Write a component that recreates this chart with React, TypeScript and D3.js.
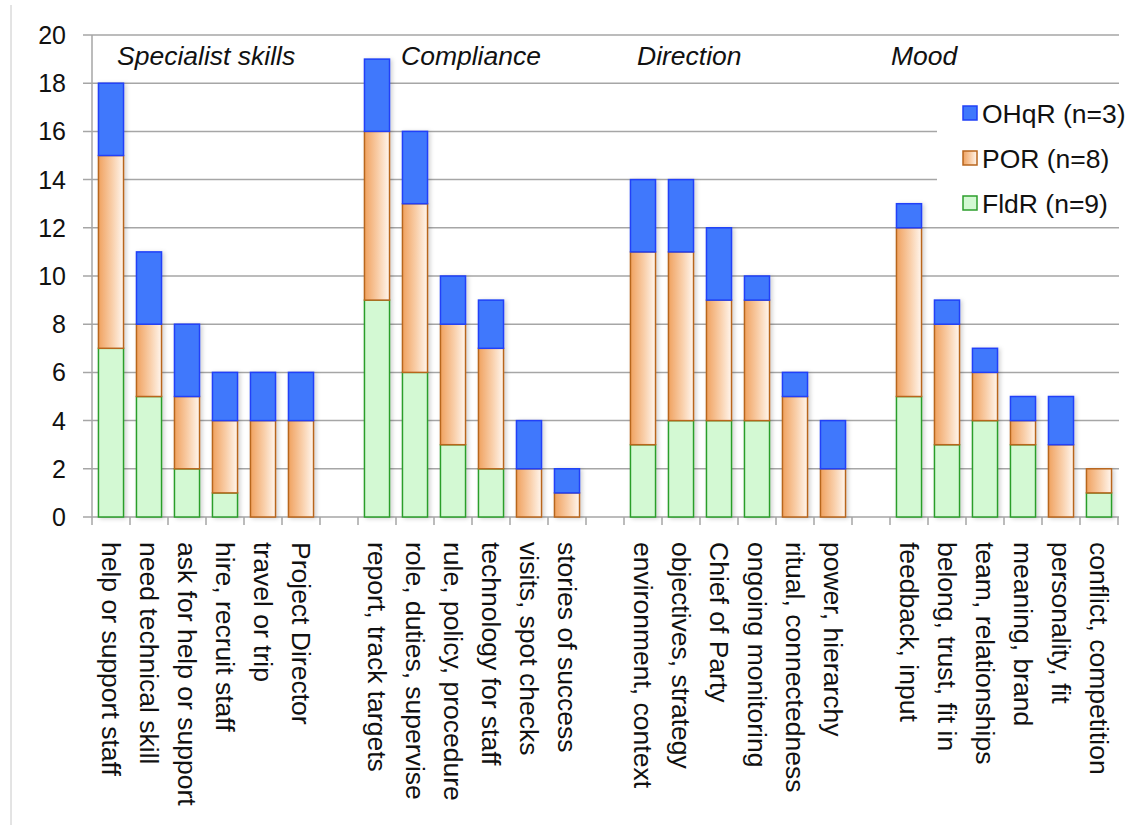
import React, { useEffect, useRef } from "react";
import * as d3 from "d3";

const groups = ["Specialist skills", "Compliance", "Direction", "Mood"];
const groupLabelX = [117, 401, 637, 891];

const categories = [
  "help or support staff", "need technical skill", "ask for help or support",
  "hire, recruit staff", "travel or trip", "Project Director",
  "report, track targets", "role, duties, supervise", "rule, policy, procedure",
  "technology for staff", "visits, spot checks", "stories of success",
  "environment, context", "objectives, strategy", "Chief of Party",
  "ongoing monitoring", "ritual, connectedness", "power, hierarchy",
  "feedback, input", "belong, trust, fit in", "team, relationships",
  "meaning, brand", "personality, fit", "conflict, competition",
];

const fldr = [7, 5, 2, 1, 0, 0, 9, 6, 3, 2, 0, 0, 3, 4, 4, 4, 0, 0, 5, 3, 4, 3, 0, 1];
const por = [8, 3, 3, 3, 4, 4, 7, 7, 5, 5, 2, 1, 8, 7, 5, 5, 5, 2, 7, 5, 2, 1, 3, 1];
const ohqr = [3, 3, 3, 2, 2, 2, 3, 3, 2, 2, 2, 1, 3, 3, 3, 1, 1, 2, 1, 1, 1, 1, 2, 0];

const seriesKeys = ["FldR", "POR", "OHqR"];
const legendLabels = ["OHqR (n=3)", "POR (n=8)", "FldR (n=9)"];
const yTicks = [0, 2, 4, 6, 8, 10, 12, 14, 16, 18, 20];

const W = 1134;
const H = 825;
const FONT = "'Liberation Sans', Arial, Helvetica, sans-serif";

export default function App() {
  const ref = useRef<SVGSVGElement>(null);

  useEffect(() => {
    const svg = d3.select(ref.current);
    svg.selectAll("*").remove();

    // slots: 6 bars per group, one empty slot between groups
    const slots: string[] = [];
    categories.forEach((c, i) => {
      if (i > 0 && i % 6 === 0) slots.push("gap" + i);
      slots.push(c);
    });

    const x = d3.scaleBand<string>().domain(slots).range([92, 1118]).paddingInner(0.34).paddingOuter(0.17);
    const y = d3.scaleLinear().domain([0, 20]).range([517, 35]);

    const rows = categories.map((c, i) => ({ cat: c, FldR: fldr[i], POR: por[i], OHqR: ohqr[i] }));
    const stacked = d3.stack<any>().keys(seriesKeys)(rows);

    const defs = svg.append("defs");
    const grad = defs.append("linearGradient").attr("id", "porGrad").attr("x1", "0").attr("x2", "1").attr("y1", "0").attr("y2", "0");
    grad.append("stop").attr("offset", "0%").attr("stop-color", "#f0a260");
    grad.append("stop").attr("offset", "55%").attr("stop-color", "#f9cfaa");
    grad.append("stop").attr("offset", "100%").attr("stop-color", "#fff6ee");
    const shadow = defs.append("filter").attr("id", "shadow").attr("x", "-30%").attr("y", "-10%").attr("width", "160%").attr("height", "120%");
    shadow.append("feDropShadow").attr("dx", 2).attr("dy", 1).attr("stdDeviation", 2).attr("flood-color", "#000").attr("flood-opacity", 0.18);

    const fills: Record<string, string> = { FldR: "#d3f9d3", POR: "url(#porGrad)", OHqR: "#3f78fc" };
    const strokes: Record<string, string> = { FldR: "#2c9e2c", POR: "#b8661e", OHqR: "#2040f8" };

    // left page border
    svg.append("line").attr("x1", 11).attr("x2", 11).attr("y1", 5).attr("y2", H).attr("stroke", "#c8c8c8").attr("stroke-width", 1);

    // gridlines
    svg.append("g").selectAll("line").data(yTicks).join("line")
      .attr("x1", 83).attr("x2", 1119)
      .attr("y1", (d) => y(d)).attr("y2", (d) => y(d))
      .attr("stroke", "#a6a6a6").attr("stroke-width", 1.5);

    // y axis
    svg.append("line").attr("x1", 92).attr("x2", 92).attr("y1", y(20)).attr("y2", y(0)).attr("stroke", "#a6a6a6").attr("stroke-width", 1.5);
    svg.append("g").selectAll("text").data(yTicks).join("text")
      .attr("x", 66).attr("y", (d) => y(d)).attr("dy", "0.36em")
      .attr("text-anchor", "end").attr("font-family", FONT).attr("font-size", 25).attr("fill", "#111")
      .text((d) => d);

    // x ticks at slot boundaries
    const bounds = d3.range(slots.length + 1).map((i) => 92 + i * x.step());
    svg.append("g").selectAll("line").data(bounds).join("line")
      .attr("x1", (d) => d).attr("x2", (d) => d).attr("y1", y(0)).attr("y2", y(0) + 8)
      .attr("stroke", "#a6a6a6").attr("stroke-width", 1.5);

    // legend background (hides gridlines)
    svg.append("rect").attr("x", 937).attr("y", 96).attr("width", 182).attr("height", 124).attr("fill", "#fff");

    // bars
    const layers = svg.append("g").attr("filter", "url(#shadow)");
    stacked.forEach((s) => {
      layers.append("g").selectAll("rect").data(s.filter((d) => d[1] - d[0] > 0)).join("rect")
        .attr("x", (d: any) => x(d.data.cat)!)
        .attr("width", x.bandwidth())
        .attr("y", (d) => y(d[1]))
        .attr("height", (d) => y(d[0]) - y(d[1]))
        .attr("fill", fills[s.key])
        .attr("stroke", strokes[s.key])
        .attr("stroke-width", 1.5);
    });

    // category labels
    svg.append("g").selectAll("text").data(categories).join("text")
      .attr("transform", (d) => `translate(${x(d)! + x.bandwidth() / 2},542) rotate(90)`)
      .attr("dy", "0.35em")
      .attr("font-family", FONT).attr("font-size", 26.5).attr("fill", "#111")
      .text((d) => d);

    // group labels
    svg.append("g").selectAll("text").data(groups).join("text")
      .attr("x", (_d, i) => groupLabelX[i]).attr("y", 65)
      .attr("font-family", FONT).attr("font-size", 26.5).attr("font-style", "italic").attr("fill", "#111")
      .text((d) => d);

    // legend
    const legendKeys = ["OHqR", "POR", "FldR"];
    const lg = svg.append("g").selectAll("g").data(legendKeys).join("g")
      .attr("transform", (_d, i) => `translate(963,${113 + i * 45})`);
    lg.append("rect").attr("x", 0).attr("y", -7).attr("width", 14).attr("height", 14)
      .attr("fill", (d) => fills[d]).attr("stroke", (d) => strokes[d]).attr("stroke-width", 1.5);
    lg.append("text").attr("x", 19).attr("dy", "0.36em")
      .attr("font-family", FONT).attr("font-size", 26.5).attr("fill", "#111")
      .text((_d, i) => legendLabels[i]);
  }, []);

  return (
    <svg ref={ref} width={W} height={H} style={{ position: "absolute", left: 0, top: 0, background: "#fff" }} />
  );
}
